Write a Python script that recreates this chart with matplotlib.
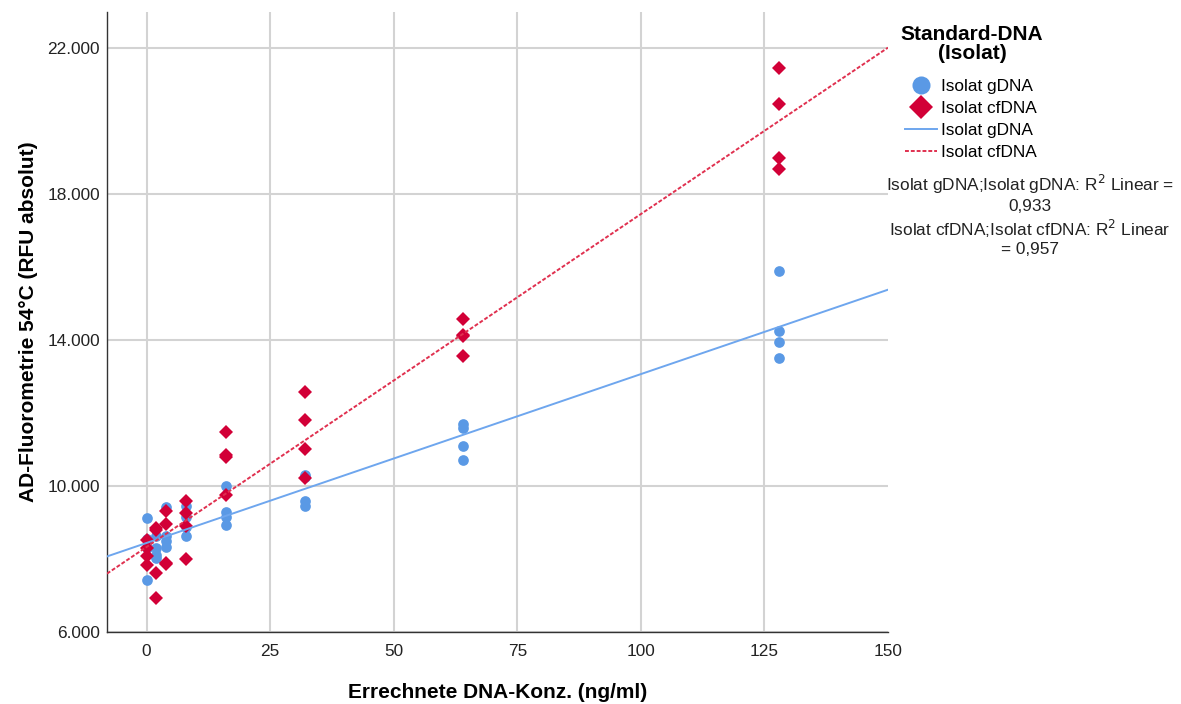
import numpy as np
import matplotlib
matplotlib.use("Agg")
import matplotlib.pyplot as plt
from matplotlib.lines import Line2D
from matplotlib.ticker import FuncFormatter

plt.rcParams["font.family"] = ["Liberation Sans", "DejaVu Sans"]

# ---------------------------------------------------------------------------
# DATA
# ---------------------------------------------------------------------------
conc_levels = [0, 2, 4, 8, 16, 32, 64, 128]

gdna_rfu = [
    [9120, 8550, 8300, 7430],
    [8620, 8300, 8110, 8020],
    [9420, 8620, 8480, 8340],
    [9440, 9160, 8890, 8630],
    [9990, 9300, 9160, 8940],
    [10300, 10250, 9580, 9440],
    [11710, 11590, 11100, 10720],
    [15890, 14240, 13950, 13510],
]

cfdna_rfu = [
    [8520, 8300, 8070, 7840],
    [8850, 8800, 7610, 6920],
    [9320, 8960, 7900, 7860],
    [9580, 9260, 8910, 7990],
    [11470, 10850, 10790, 9760],
    [12590, 11820, 11020, 10230],
    [14580, 14150, 14100, 13550],
    [21470, 20460, 19000, 18700],
]

x_ticks = [0, 25, 50, 75, 100, 125, 150]
y_ticks = [6000, 10000, 14000, 18000, 22000]

series_labels = ["Isolat gDNA", "Isolat cfDNA"]
legend_title = "Standard-DNA\n(Isolat)"
r2_text = ("Isolat gDNA;Isolat gDNA: R$^2$ Linear =\n0,933\n"
           "Isolat cfDNA;Isolat cfDNA: R$^2$ Linear\n= 0,957")

# ---------------------------------------------------------------------------
# styling
# ---------------------------------------------------------------------------
BLUE = "#5A99E5"
BLUE_LINE = "#6EA6EE"
RED = "#D20037"
RED_LINE = "#E0304F"
RED_DASH = (0, (2.0, 1.0))

fig = plt.figure(figsize=(11.81, 7.04), dpi=100)
ax = fig.add_axes([0.0906, 0.1023, 0.6613, 0.8811])

x_lo, x_hi = -8, 150
xs_line = np.array([x_lo, x_hi])

for rfu, color, marker, ms, lcol, ls in [
        (gdna_rfu, BLUE, "o", 7.7, BLUE_LINE, "-"),
        (cfdna_rfu, RED, "D", 7.1, RED_LINE, RED_DASH)]:
    xx = np.repeat(conc_levels, [len(r) for r in rfu])
    yy = np.concatenate(rfu)
    # linear fit line (like SPSS "Fit line at total")
    slope, icpt = np.polyfit(xx, yy, 1)
    ax.plot(xx, yy, linestyle="none", marker=marker, markersize=ms,
            color=color, markeredgewidth=0, zorder=3)
    ax.plot(xs_line, icpt + slope * xs_line, color=lcol, linestyle=ls,
            linewidth=1.4, zorder=4)

ax.set_xlim(x_lo, x_hi)
ax.set_ylim(6000, 23000)
ax.set_xticks(x_ticks)
ax.set_yticks(y_ticks)
ax.yaxis.set_major_formatter(FuncFormatter(lambda v, p: f"{int(v):,}".replace(",", ".")))
ax.grid(True, color="#D3D3D3", linewidth=1.5, zorder=0)
ax.get_xgridlines()[-1].set_visible(False)
ax.set_axisbelow(True)
ax.tick_params(length=0, labelsize=12.4, colors="#222222")
ax.tick_params(axis="x", pad=9)
ax.tick_params(axis="y", pad=5)
for s in ["top", "right"]:
    ax.spines[s].set_visible(False)
for s in ["left", "bottom"]:
    ax.spines[s].set_color("#333333")
    ax.spines[s].set_linewidth(1.0)

ax.set_xlabel("Errechnete DNA-Konz. (ng/ml)", fontsize=15, fontweight="bold", va="center")
ax.set_ylabel("AD-Fluorometrie 54°C (RFU absolut)", fontsize=15, fontweight="bold", va="center")
ax.xaxis.set_label_coords(0.5, -0.0968)
ax.yaxis.set_label_coords(-0.101, 0.5)

# legend: title drawn as text, entries as legend
fig.text(972 / 1181, 1 - 44 / 704, legend_title, ha="center", va="center",
         fontsize=15, fontweight="bold", linespacing=1.0)

handles = [
    Line2D([], [], linestyle="none", marker="o", markersize=13, color=BLUE, markeredgewidth=0),
    Line2D([], [], linestyle="none", marker="D", markersize=12.5, color=RED, markeredgewidth=0),
    Line2D([], [], color=BLUE_LINE, linewidth=1.4),
    Line2D([], [], color=RED_LINE, linewidth=1.4, linestyle=RED_DASH),
]
fig.legend(handles, series_labels + series_labels, loc="upper left",
           bbox_to_anchor=(905 / 1181, 1 - 79 / 704), frameon=False, fontsize=12.4,
           handlelength=1.86, handletextpad=0.23, labelspacing=0.40,
           borderpad=0, borderaxespad=0)

fig.text(0.872, 1 - 173 / 704, r2_text, ha="center", va="top", fontsize=12.4,
         linespacing=1.22, color="#222222")

fig.savefig("out.png", dpi=100)
